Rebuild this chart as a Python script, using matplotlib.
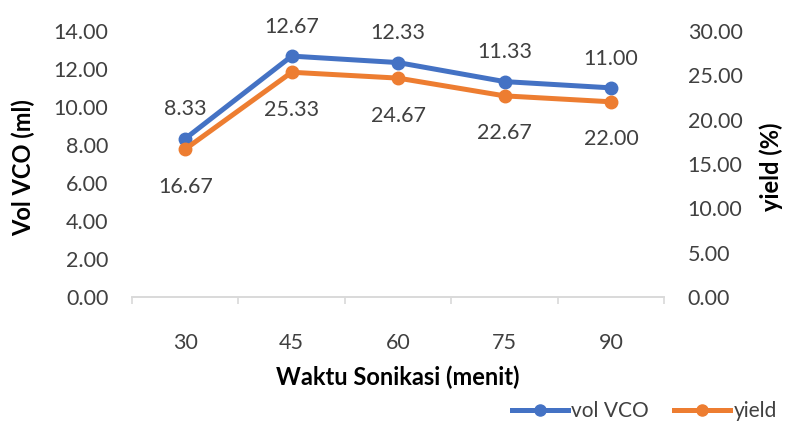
import matplotlib
matplotlib.use("Agg")
import matplotlib.pyplot as plt
from matplotlib.lines import Line2D

categories = ["30", "45", "60", "75", "90"]
vol_vco = [8.33, 12.67, 12.33, 11.33, 11.00]
yield_pct = [16.67, 25.33, 24.67, 22.67, 22.00]
left_ticks = [0, 2, 4, 6, 8, 10, 12, 14]
right_ticks = [0, 5, 10, 15, 20, 25, 30]

blue = "#4472C4"
orange = "#ED7D31"
txt = "#404040"
plt.rcParams['font.family'] = ['Lato', 'DejaVu Sans']

fig = plt.figure(figsize=(7.86, 4.28), dpi=100)
ax = fig.add_axes([0.168, 0.306, 0.677, 0.622])
ax2 = ax.twinx()

x = list(range(len(categories)))
ax.plot(x, vol_vco, color=blue, lw=3.6, marker='o', ms=9, zorder=3)
ax2.plot(x, yield_pct, color=orange, lw=3.6, marker='o', ms=9, zorder=3)

for xi, v in zip(x, vol_vco):
    ax.annotate(f"{v:.2f}", (xi, v), xytext=(0, 21), textcoords='offset points',
                ha='center', va='center', fontsize=15.5, color=txt)
for xi, v in zip(x, yield_pct):
    ax2.annotate(f"{v:.2f}", (xi, v), xytext=(0, -27), textcoords='offset points',
                 ha='center', va='center', fontsize=15.5, color=txt)

ax.set_xlim(-0.5, len(categories) - 0.5)
ax.set_ylim(0, 14)
ax2.set_ylim(0, 30)
ax.set_yticks(left_ticks)
ax.set_yticklabels([f"{t:.2f}" for t in left_ticks])
ax2.set_yticks(right_ticks)
ax2.set_yticklabels([f"{t:.2f}" for t in right_ticks])
ax.set_xticks(x)
ax.set_xticklabels(categories)
ax.set_xticks([i - 0.5 for i in range(len(categories) + 1)], minor=True)

for a in (ax, ax2):
    for s in ('top', 'left', 'right'):
        a.spines[s].set_visible(False)
    a.spines['bottom'].set_color('#D9D9D9')
    a.spines['bottom'].set_linewidth(1.2)
    a.tick_params(axis='y', length=0, labelsize=15.5, labelcolor=txt)
ax.tick_params(axis='y', pad=17)
ax2.tick_params(axis='y', pad=17)
ax.tick_params(axis='x', which='major', length=0, labelsize=15.5, labelcolor=txt, pad=26)
ax.tick_params(axis='x', which='minor', length=5, color='#D9D9D9', width=1.2)

ax.set_xlabel("Waktu Sonikasi (menit)", fontsize=17, fontweight='bold', color='black',
              va='center', ha='center')
ax.xaxis.set_label_coords(0.5, (297 - 377) / 266)
ax.set_ylabel("Vol VCO (ml)", fontsize=17, fontweight='bold', color='black',
              va='center', ha='center')
ax.yaxis.set_label_coords((23 - 132) / 532, 0.485)
ax2.set_ylabel("yield (%)", fontsize=17, fontweight='bold', color='black', rotation=90,
               va='center', ha='center')
ax2.yaxis.set_label_coords((771 - 132) / 532, 0.49)

handles = [Line2D([0], [0], color=blue, lw=3.6, marker='o', ms=8),
           Line2D([0], [0], color=orange, lw=3.6, marker='o', ms=8)]
fig.legend(handles, ["vol VCO", "yield"], loc='lower right', bbox_to_anchor=(1.012, -0.027),
           ncol=2, frameon=False, fontsize=15, handlelength=2.7, columnspacing=1.2,
           handletextpad=0.15, labelcolor=txt)

fig.savefig("out.png", dpi=100, facecolor='white')
